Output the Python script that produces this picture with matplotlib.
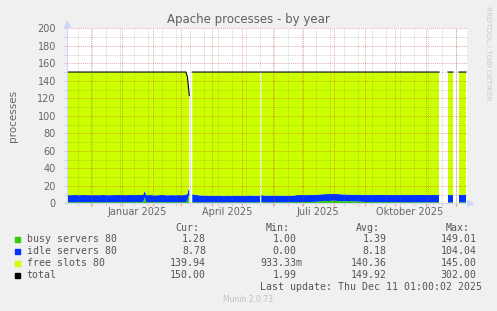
import datetime as dt
import numpy as np
import matplotlib.pyplot as plt
from matplotlib.patches import Rectangle

nan = np.nan

# DATOS (dias desde 2024-11-07)
start = dt.date(2024, 11, 7)
span = 400

day = [0, 4, 8, 12, 16, 20, 24, 28, 32, 36, 40, 44, 48, 52, 56, 60, 64, 68, 72, 76,
       78, 79, 80, 84, 88, 92, 96, 100, 104, 108, 112, 116, 119, 120.5, 121.5, 122.3,
       123.5,
       125.3, 128, 132, 136, 140, 144, 148, 152, 156, 160, 164, 168, 172, 176, 180, 184, 188, 193,
       193.6,
       194.3, 198, 202, 206, 210, 214, 218, 222, 226, 230, 234, 238, 242, 246, 250, 254,
       258, 262, 266, 270, 274, 278, 282, 286, 290, 294, 298, 302, 306, 310, 314, 318,
       322, 326, 330, 334, 338, 342, 346, 350, 354, 358, 362, 366, 370, 372,
       376,
       381, 384, 386,
       389,
       392, 395, 399]

busy = [1.2, 1.3, 1.1, 1.4, 1.2, 1.3, 1.5, 1.2, 1.3, 1.1, 1.2, 1.4, 1.3, 1.2, 1.5, 1.3, 1.2, 1.4, 1.3, 1.2,
        7.0, 1.5, 1.2, 1.3, 1.2, 1.4, 1.3, 1.2, 1.3, 1.4, 1.2, 1.3, 1.5, 3.0, 8.5, 8.5,
        nan,
        1.3, 1.2, 1.1, 1.2, 1.0, 1.1, 1.2, 1.1, 1.0, 1.2, 1.1, 1.3, 1.1, 1.0, 1.2, 1.1, 1.2, 1.1,
        nan,
        1.2, 1.3, 1.1, 1.2, 1.4, 1.2, 1.1, 1.3, 1.2, 1.4, 1.3, 1.5, 1.4, 1.6, 1.8, 2.4,
        2.8, 2.6, 3.0, 2.7, 2.5, 2.2, 2.6, 2.4, 2.0, 1.8, 1.5, 1.4, 1.3, 1.4, 1.2, 1.3,
        1.5, 1.2, 1.3, 1.1, 1.4, 1.2, 1.3, 1.2, 1.4, 1.1, 1.3, 1.2, 1.3, 1.2,
        nan,
        1.0, 1.1, 1.0,
        nan,
        1.1, 1.3, 1.28]

idle = [8.2, 8.0, 8.4, 7.9, 8.3, 8.1, 7.8, 8.2, 8.0, 8.4, 8.1, 7.9, 8.2, 8.3, 7.9, 8.1, 8.4, 8.0, 8.2, 8.3,
        7.5, 8.0, 8.1, 8.2, 7.8, 8.0, 8.3, 7.9, 8.1, 7.8, 8.2, 8.0, 8.3, 8.0, 7.5, 7.5,
        nan,
        9.0, 8.6, 8.0, 7.6, 7.8, 7.4, 7.3, 7.6, 7.2, 7.5, 7.1, 7.4, 7.6, 7.3, 7.5, 7.8, 7.4, 7.6,
        nan,
        8.2, 7.4, 7.6, 7.3, 7.5, 7.2, 7.6, 7.4, 7.5, 8.0, 8.2, 7.9, 8.1, 8.0, 8.0, 7.8,
        7.7, 8.0, 7.6, 7.9, 7.8, 7.9, 7.4, 7.5, 7.8, 8.0, 8.1, 8.4, 8.3, 8.1, 8.5, 8.2,
        8.0, 8.4, 8.2, 8.5, 8.1, 8.3, 8.2, 8.4, 8.1, 8.5, 8.2, 8.3, 8.4, 8.3,
        nan,
        8.5, 8.3, 8.6,
        nan,
        8.6, 8.4, 8.78]

free = [140.6, 140.7, 140.5, 140.7, 140.5, 140.6, 140.7, 140.6, 140.7, 140.5,
        140.7, 140.7, 140.5, 140.5, 140.6, 140.6, 140.4, 140.6, 140.5, 140.5,
        135.5, 140.5, 140.7, 140.5, 141.0, 140.6, 140.4, 140.9, 140.6, 140.8,
        140.6, 140.7, 140.2, 133.0, 116.0, 107.0,
        nan,
        139.7, 140.2, 140.9, 141.2, 141.2, 141.5, 141.5, 141.3, 141.8, 141.3,
        141.8, 141.3, 141.3, 141.7, 141.3, 141.1, 141.4, 141.3,
        nan,
        140.6, 141.3, 141.3, 141.5, 141.1, 141.6, 141.3, 141.3, 141.3, 140.6,
        140.5, 140.6, 140.5, 140.4, 140.2, 139.8, 139.5, 139.4, 139.4, 139.4,
        139.7, 139.9, 140.0, 140.1, 140.2, 140.2, 140.4, 140.2, 140.4, 140.5,
        140.3, 140.5, 140.5, 140.4, 140.5, 140.4, 140.5, 140.5, 140.5, 140.4,
        140.5, 140.4, 140.5, 140.5, 140.3, 140.5,
        nan,
        140.5, 140.6, 140.4,
        nan,
        140.3, 140.3, 139.94]

names = ['busy servers 80', 'idle servers 80', 'free slots 80', 'total']
colors = ['#33CC00', '#0033FF', '#CCFF00', '#000000']
cur = ['1.28', '8.78', '139.94', '150.00']
mins = ['1.00', '0.00', '933.33m', '1.99']
avgs = ['1.39', '8.18', '140.36', '149.92']
maxs = ['149.01', '104.04', '145.00', '302.00']

labels_x = ['Januar 2025', 'April 2025', 'Juli 2025', 'Oktober 2025']
labels_m = [(2025, 1), (2025, 4), (2025, 7), (2025, 10)]

# PROCEDIMIENTO
W, H = 497, 311
d = np.array(day)
b = np.array(busy)
i = np.array(idle)
f = np.array(free)
top1 = b
top2 = b + i
top3 = b + i + f


def px(x):
    return x / W


def py(y):
    return 1 - y / H


def off(fecha):
    return (fecha - start).days


fig = plt.figure(figsize=(W / 100, H / 100), dpi=100, facecolor='#F0F0F0')
ax = fig.add_axes([px(67), py(203.3), 400 / W, 175 / H])
ax.set_facecolor('white')

ax.fill_between(d, 0, top1, color=colors[0], lw=0, zorder=1)
ax.fill_between(d, top1, top2, color=colors[1], lw=0, zorder=1)
ax.fill_between(d, top2, top3, color=colors[2], lw=0, zorder=1)
ax.plot(d, top3, color=colors[3], lw=0.8, zorder=2)

# rejilla
gris = (0.45, 0.45, 0.45, 0.3)
rojo = (0.85, 0.1, 0.1, 0.38)
for y in range(10, 201, 10):
    c = rojo if y % 20 == 0 else gris
    ax.axhline(y, color=c, lw=0.7, ls=(0, (1, 1)), zorder=3)

lunes = dt.date(2024, 11, 18)
semanas = []
while off(lunes) < span:
    semanas.append(off(lunes))
    lunes += dt.timedelta(days=14)
meses = []
for k in range(1, 14):
    a, m = 2024 + (10 + k) // 12, (10 + k) % 12 + 1
    meses.append(off(dt.date(a, m, 1)))
for x in semanas:
    ax.axvline(x, color=gris, lw=0.7, ls=(0, (1, 1)), zorder=3)
for x in meses:
    ax.axvline(x, color=rojo, lw=0.7, ls=(0, (1, 1)), zorder=3)

ax.set_xticks(meses)
ax.set_xticks(semanas, minor=True)
ax.set_xticklabels([])
ax.tick_params(axis='x', which='major', length=2, color=rojo)
ax.tick_params(axis='x', which='minor', length=2, color=gris)

ax.set_yticks(range(0, 201, 20))
ax.set_yticks(range(10, 200, 20), minor=True)
ax.tick_params(axis='y', which='both', length=2, color=gris,
               labelsize=7, labelcolor='#666666', pad=6)
ax.set_xlim(0, span)
ax.set_ylim(0, 200)

for txt, (a, m) in zip(labels_x, labels_m):
    ax.text(off(dt.date(a, m, 1)) + 15, -10, txt, ha='center', va='center',
            fontsize=7, color='#666666', clip_on=False)

for s in ['top', 'right', 'left', 'bottom']:
    ax.spines[s].set_visible(False)
ax.plot([0, 0], [0, 205], color='#CFD6F8', lw=0.8, clip_on=False, zorder=4)
ax.plot([0, 403], [0, 0], color='#CFD6F8', lw=0.8, clip_on=False, zorder=4)
ax.plot([0], [205], marker='^', ms=4, color='#CFD6F8', clip_on=False, zorder=4)
ax.plot([403], [0], marker='>', ms=4, color='#CFD6F8', clip_on=False, zorder=4)
ax.set_xlim(0, span)
ax.set_ylim(0, 200)

ax.set_ylabel('processes', fontsize=7.5, color='#666666', labelpad=14)

# SALIDA
fig.text(px(248.5), py(19), 'Apache processes - by year', ha='center', va='center',
         fontsize=8.5, color='#606060')
fig.text(px(488), py(53), 'RRDTOOL / TOBI OETIKER', ha='center', va='center',
         rotation=270, fontsize=5.3, color='#C8C8C8')

mono = dict(family='DejaVu Sans Mono', fontsize=7.1, color='#555555', va='center')
for txt, xr in zip(['Cur:', 'Min:', 'Avg:', 'Max:'], [199.3, 290, 380, 470]):
    fig.text(px(xr), py(228.3), txt, ha='right', **mono)
for r in range(4):
    yr = 239.3 + 12 * r
    fig.patches.append(Rectangle((px(14.5), py(yr + 2.6)), 5.2 / W, 5.2 / H,
                                 transform=fig.transFigure, color=colors[r]))
    fig.text(px(26.7), py(yr), names[r], ha='left', **mono)
    for vals, xr in zip([cur, mins, avgs, maxs], [206, 296.7, 386.7, 476.7]):
        v = vals[r]
        if v[-1].isalpha():
            xr += 6
        fig.text(px(xr), py(yr), v, ha='right', **mono)
fig.text(px(482.3), py(287.5), 'Last update: Thu Dec 11 01:00:02 2025', ha='right', **mono)
fig.text(px(247.7), py(300), 'Munin 2.0.73', ha='center', va='center',
         fontsize=5.5, color='#C0C0C0')

fig.savefig('out.png', dpi=100, facecolor=fig.get_facecolor())
